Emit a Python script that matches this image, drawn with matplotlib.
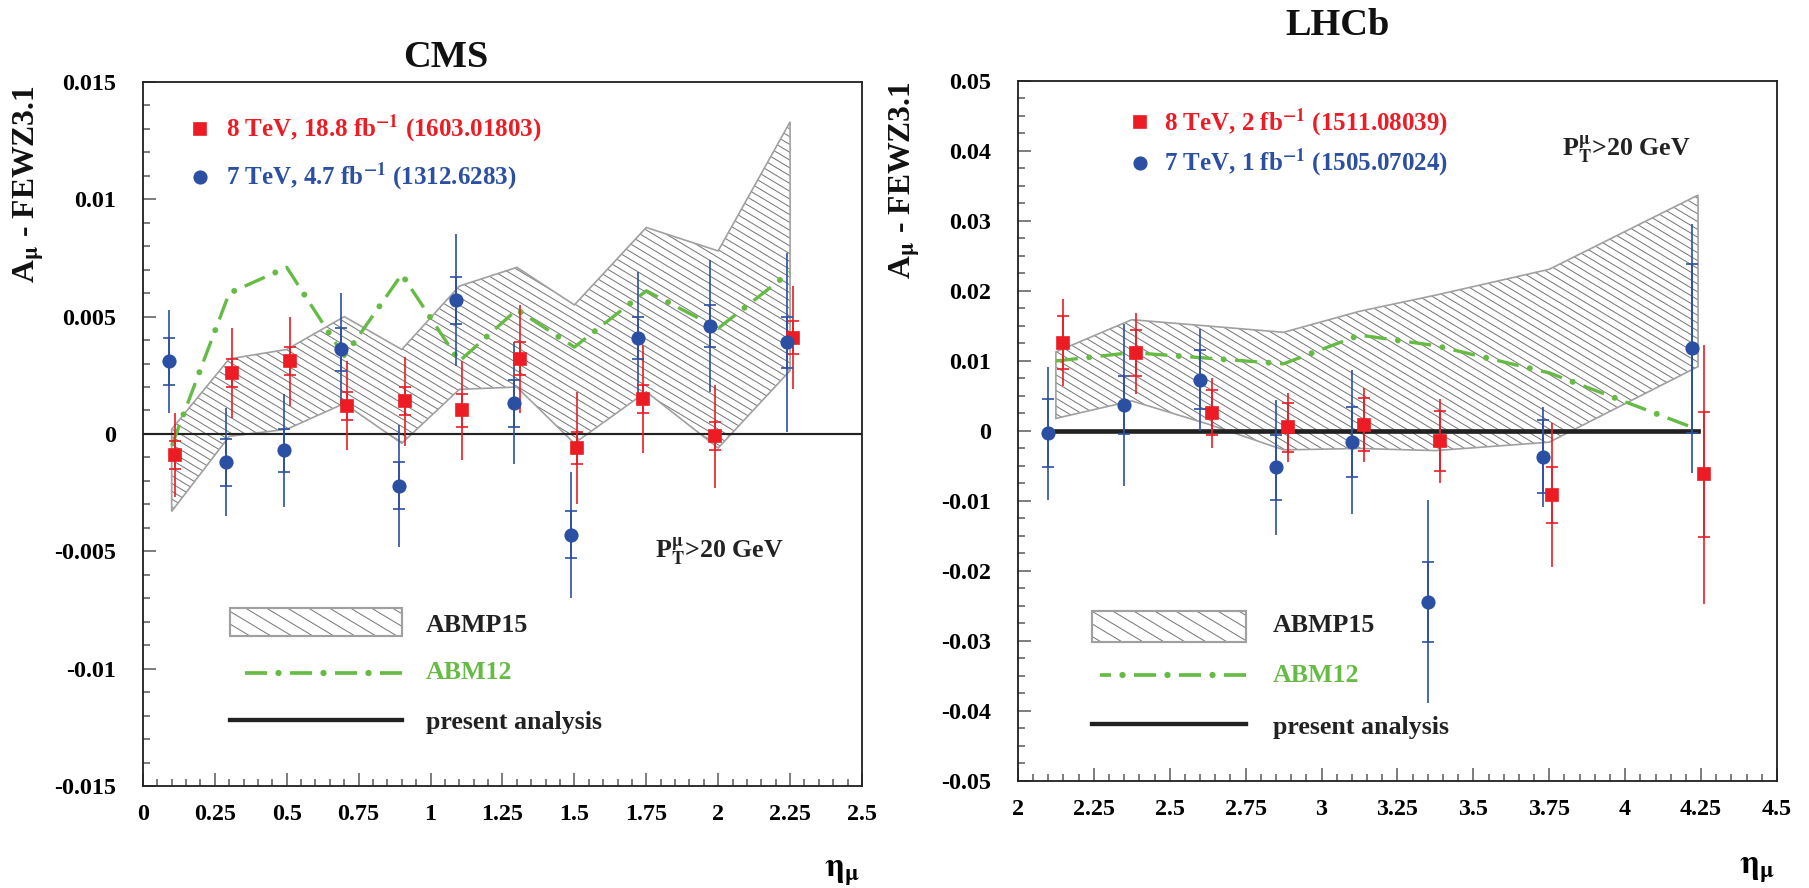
import numpy as np
import matplotlib
matplotlib.use("Agg")
import matplotlib.pyplot as plt
from matplotlib.patches import Polygon
from matplotlib.lines import Line2D
from matplotlib.collections import LineCollection
from matplotlib.ticker import MultipleLocator

plt.rcParams['font.family'] = 'Liberation Serif'
plt.rcParams['font.weight'] = 'bold'
plt.rcParams['mathtext.fontset'] = 'stix'
plt.rcParams['lines.scale_dashes'] = False

RED = '#ec1c24'
BLUE = '#2b4fa2'
GREEN = '#66bb44'
BAND_EDGE = '#a0a0a0'
HATCH = '#777777'
# ROOT-like dash-dot: dashes and larger round dots drawn as two strokes
DASH_STYLE = (0, (13.2, 13.8))
DOT_STYLE = (6.9, (0.01, 26.99))

# ---- CMS data ----
cms_eta8 = [0.11, 0.31, 0.51, 0.71, 0.91, 1.11, 1.31, 1.51, 1.74, 1.99, 2.26]
cms_a8 = [-0.0009, 0.0026, 0.0031, 0.0012, 0.0014, 0.0010, 0.0032, -0.0006, 0.0015, -0.0001, 0.0041]
cms_stat8 = [0.0006, 0.0006, 0.0006, 0.0006, 0.0006, 0.0007, 0.0007, 0.0007, 0.0006, 0.0006, 0.0007]
cms_tot8 = [0.0018, 0.0019, 0.0019, 0.0019, 0.0019, 0.0021, 0.0023, 0.0024, 0.0023, 0.0022, 0.0022]

cms_eta7 = [0.09, 0.29, 0.49, 0.69, 0.89, 1.09, 1.29, 1.49, 1.72, 1.97, 2.24]
cms_a7 = [0.0031, -0.0012, -0.0007, 0.0036, -0.0022, 0.0057, 0.0013, -0.0043, 0.0041, 0.0046, 0.0039]
cms_stat7 = [0.0010, 0.0010, 0.0009, 0.0009, 0.0010, 0.0010, 0.0010, 0.0010, 0.0009, 0.0009, 0.0011]
cms_tot7 = [0.0022, 0.0023, 0.0024, 0.0024, 0.0026, 0.0028, 0.0026, 0.0027, 0.0028, 0.0028, 0.0038]

cms_band_eta = [0.1, 0.3, 0.5, 0.7, 0.9, 1.1, 1.3, 1.5, 1.75, 2.0, 2.25]
cms_band_hi = [0.0002, 0.0032, 0.0036, 0.0050, 0.0036, 0.0063, 0.0071, 0.0055, 0.0088, 0.0078, 0.0133]
cms_band_lo = [-0.0033, -0.0001, 0.0002, 0.0013, -0.0004, 0.0019, 0.0020, -0.0004, 0.0018, -0.0006, 0.0027]

cms_abm12_eta = [0.1, 0.3, 0.5, 0.7, 0.9, 1.1, 1.3, 1.5, 1.75, 2.0, 2.25]
cms_abm12 = [-0.0005, 0.0060, 0.0071, 0.0033, 0.0068, 0.0031, 0.0053, 0.0037, 0.0061, 0.0045, 0.0069]

cms_xticks = [0, 0.25, 0.5, 0.75, 1, 1.25, 1.5, 1.75, 2, 2.25, 2.5]
cms_xlabels = ['0', '0.25', '0.5', '0.75', '1', '1.25', '1.5', '1.75', '2', '2.25', '2.5']
cms_yticks = [-0.015, -0.01, -0.005, 0, 0.005, 0.01, 0.015]
cms_ylabels = ['-0.015', '-0.01', '-0.005', '0', '0.005', '0.01', '0.015']

# ---- LHCb data ----
lhcb_eta8 = [2.15, 2.39, 2.64, 2.89, 3.14, 3.39, 3.76, 4.26]
lhcb_a8 = [0.0126, 0.0111, 0.0026, 0.0005, 0.0009, -0.0014, -0.0092, -0.0062]
lhcb_stat8 = [0.0038, 0.0033, 0.0032, 0.0035, 0.0038, 0.0043, 0.0040, 0.0089]
lhcb_tot8 = [0.0062, 0.0058, 0.0050, 0.0049, 0.0053, 0.0060, 0.0103, 0.0185]

lhcb_eta7 = [2.10, 2.35, 2.60, 2.85, 3.10, 3.35, 3.73, 4.22]
lhcb_a7 = [-0.0003, 0.0037, 0.0073, -0.0052, -0.0016, -0.0244, -0.0037, 0.0118]
lhcb_stat7 = [0.0048, 0.0041, 0.0042, 0.0046, 0.0050, 0.0057, 0.0052, 0.0121]
lhcb_tot7 = [0.0095, 0.0116, 0.0073, 0.0096, 0.0103, 0.0145, 0.0071, 0.0178]

lhcb_band_eta = [2.125, 2.375, 2.625, 2.875, 3.125, 3.375, 3.75, 4.24]
lhcb_band_hi = [0.0113, 0.0159, 0.0150, 0.0141, 0.0171, 0.0194, 0.0231, 0.0337]
lhcb_band_lo = [0.0018, 0.0043, 0.0010, -0.0027, -0.0025, -0.0028, -0.0016, 0.0092]

lhcb_abm12_eta = [2.125, 2.375, 2.625, 2.875, 3.125, 3.375, 3.75, 4.24]
lhcb_abm12 = [0.0100, 0.0112, 0.0104, 0.0096, 0.0137, 0.0122, 0.0083, 0.0002]

lhcb_present_eta = [2.125, 4.24]
lhcb_present = [0.0, 0.0]

lhcb_xticks = [2, 2.25, 2.5, 2.75, 3, 3.25, 3.5, 3.75, 4, 4.25, 4.5]
lhcb_xlabels = ['2', '2.25', '2.5', '2.75', '3', '3.25', '3.5', '3.75', '4', '4.25', '4.5']
lhcb_yticks = [-0.05, -0.04, -0.03, -0.02, -0.01, 0, 0.01, 0.02, 0.03, 0.04, 0.05]
lhcb_ylabels = ['-0.05', '-0.04', '-0.03', '-0.02', '-0.01', '0', '0.01', '0.02', '0.03', '0.04', '0.05']


def hatch_fill(ax, clip_patch, spacing_px, slope=0.6):
    # diagonal hatch lines (down to the right) across the axes, clipped to a patch
    w = ax.bbox.width
    h = ax.bbox.height
    step = spacing_px * slope
    segs = []
    c = 0.0
    while c < h + slope * w + step:
        segs.append([(0.0, c / h), (1.0, (c - slope * w) / h)])
        c += step
    lc = LineCollection(segs, colors=HATCH, linewidths=0.6, transform=ax.transAxes, zorder=2)
    ax.add_collection(lc)
    lc.set_clip_path(clip_patch)


def draw_abm12(ax, x, y, transform=None, lw_line=2.0, lw_dot=3.6):
    kw = {} if transform is None else {'transform': transform}
    ax.add_line(Line2D(x, y, color=GREEN, lw=lw_line, linestyle=DASH_STYLE,
                       dash_capstyle='butt', zorder=4, **kw))
    ax.add_line(Line2D(x, y, color=GREEN, lw=lw_dot, linestyle=DOT_STYLE,
                       dash_capstyle='round', zorder=4, **kw))


def draw_points(ax, eta, a, stat, tot, color, marker, ms):
    ax.errorbar(eta, a, yerr=tot, fmt='none', ecolor=color, elinewidth=1.0, capsize=0, zorder=5)
    ax.errorbar(eta, a, yerr=stat, fmt=marker, color=color, ms=ms, mec=color,
                elinewidth=1.0, capsize=3.8, capthick=1.0, zorder=6)


def draw_band(ax, eta, lo, hi):
    xs = np.concatenate([eta, eta[::-1]])
    ys = np.concatenate([hi, lo[::-1]])
    poly = Polygon(np.column_stack([xs, ys]), closed=True, facecolor='none', edgecolor=BAND_EDGE,
                   lw=1.0, zorder=3)
    ax.add_patch(poly)
    hatch_fill(ax, poly, 13)


def style_axes(ax, xticks, xlabels, yticks, ylabels, xminor, yminor):
    ax.set_xticks(xticks)
    ax.set_xticklabels(xlabels)
    ax.set_yticks(yticks)
    ax.set_yticklabels(ylabels)
    ax.xaxis.set_minor_locator(MultipleLocator(xminor))
    ax.yaxis.set_minor_locator(MultipleLocator(yminor))
    ax.tick_params(which='both', direction='in', top=False, right=False, color='#555555', width=0.9)
    ax.tick_params(which='major', length=7.8, labelsize=14.5)
    ax.tick_params(which='minor', length=4)
    ax.tick_params(axis='y', which='major', pad=16)
    ax.tick_params(axis='x', which='major', pad=11)
    for s in ax.spines.values():
        s.set_linewidth(1.1)
        s.set_color('#222222')


def draw_legends(ax, top, bottom):
    mx, tx, yr, yb, lab8, lab7 = top
    ax.plot([mx], [yr], 's', color=RED, ms=7.2, transform=ax.transAxes, clip_on=False)
    ax.plot([mx], [yb], 'o', color=BLUE, ms=7.5, transform=ax.transAxes, clip_on=False)
    ax.text(tx, yr, lab8, color=RED, fontsize=15, va='center', ha='left', transform=ax.transAxes)
    ax.text(tx, yb, lab7, color=BLUE, fontsize=15, va='center', ha='left', transform=ax.transAxes)
    x0, x1, tx2, yb0, yb1, yg, yk, tyb, tyg, tyk = bottom
    corners = [(x0, yb0), (x1, yb0), (x1, yb1), (x0, yb1)]
    box = Polygon(corners, closed=True, transform=ax.transAxes,
                  facecolor='none', edgecolor=BAND_EDGE, lw=1.3, zorder=3)
    ax.add_patch(box)
    hatch_fill(ax, box, 21)
    draw_abm12(ax, [x1, x0 + 0.01], [yg, yg], transform=ax.transAxes, lw_line=2.2, lw_dot=3.8)
    ax.add_line(Line2D([x0, x1], [yk, yk], transform=ax.transAxes, color='#222222', lw=2.6))
    ax.text(tx2, tyb, 'ABMP15', color='#222222', fontsize=15.5, va='center', transform=ax.transAxes)
    ax.text(tx2, tyg, 'ABM12', color=GREEN, fontsize=15.5, va='center', transform=ax.transAxes)
    ax.text(tx2, tyk, 'present analysis', color='#222222', fontsize=15.5, va='center', transform=ax.transAxes)


fig = plt.figure(figsize=(1809 / 120, 888 / 120), dpi=120)
fig.patch.set_facecolor('white')

# ---------------- CMS ----------------
ax1 = fig.add_axes([0.0790, 0.1149, 0.3975, 0.7928])
ax1.set_xlim(0, 2.5)
ax1.set_ylim(-0.015, 0.015)
draw_band(ax1, np.array(cms_band_eta), np.array(cms_band_lo), np.array(cms_band_hi))
ax1.axhline(0, color='#222222', lw=1.3, zorder=4)
draw_abm12(ax1, cms_abm12_eta, cms_abm12)
draw_points(ax1, cms_eta8, cms_a8, cms_stat8, cms_tot8, RED, 's', 7.2)
draw_points(ax1, cms_eta7, cms_a7, cms_stat7, cms_tot7, BLUE, 'o', 7.5)
style_axes(ax1, cms_xticks, cms_xlabels, cms_yticks, cms_ylabels, 0.05, 0.001)
draw_legends(ax1,
             (0.079, 0.115, 0.933, 0.865,
              r'8 TeV, 18.8 fb$^{\mathbf{-1}}$ (1603.01803)',
              r'7 TeV, 4.7 fb$^{\mathbf{-1}}$ (1312.6283)'),
             (0.121, 0.360, 0.393, 0.213, 0.253, 0.161, 0.094, 0.228, 0.161, 0.090))
ax1.text(0.712, 0.332, r'P$_{\mathrm{T}}^{\mathrm{\mu}}$>20 GeV', fontsize=15.5, color='#222222',
         va='center', ha='left', transform=ax1.transAxes)

# ---------------- LHCb ----------------
ax2 = fig.add_axes([0.5627, 0.1205, 0.4196, 0.7883])
ax2.set_xlim(2, 4.5)
ax2.set_ylim(-0.05, 0.05)
draw_band(ax2, np.array(lhcb_band_eta), np.array(lhcb_band_lo), np.array(lhcb_band_hi))
ax2.plot(lhcb_present_eta, lhcb_present, color='#222222', lw=2.8, zorder=4)
draw_abm12(ax2, lhcb_abm12_eta, lhcb_abm12)
draw_points(ax2, lhcb_eta8, lhcb_a8, lhcb_stat8, lhcb_tot8, RED, 's', 7.2)
draw_points(ax2, lhcb_eta7, lhcb_a7, lhcb_stat7, lhcb_tot7, BLUE, 'o', 7.5)
style_axes(ax2, lhcb_xticks, lhcb_xlabels, lhcb_yticks, lhcb_ylabels, 0.05, 0.0025)
draw_legends(ax2,
             (0.161, 0.193, 0.941, 0.883,
              r'8 TeV, 2 fb$^{\mathbf{-1}}$ (1511.08039)',
              r'7 TeV, 1 fb$^{\mathbf{-1}}$ (1505.07024)'),
             (0.098, 0.300, 0.336, 0.199, 0.243, 0.151, 0.081, 0.222, 0.150, 0.076))
ax2.text(0.717, 0.901, r'P$_{\mathrm{T}}^{\mathrm{\mu}}$>20 GeV', fontsize=15.5, color='#222222',
         va='center', ha='left', transform=ax2.transAxes)

# titles and axis labels
fig.text(0.2465, 0.9358, 'CMS', fontsize=23, ha='center', va='center', color='#111111')
fig.text(0.7396, 0.9718, 'LHCb', fontsize=23, ha='center', va='center', color='#111111')
ylab = r'A$_{\mathrm{\mu}}$ - FEWZ3.1'
fig.text(0.016, 0.904, ylab, fontsize=19, rotation=90, ha='center', va='top', color='#111111')
fig.text(0.5003, 0.908, ylab, fontsize=19, rotation=90, ha='center', va='top', color='#111111')
fig.text(0.4654, 0.0169, r'$\mathrm{\eta}_{\mathrm{\mu}}$', fontsize=20, ha='center', va='center')
fig.text(0.9713, 0.0203, r'$\mathrm{\eta}_{\mathrm{\mu}}$', fontsize=20, ha='center', va='center')

fig.savefig('out.png', dpi=120, facecolor='white')
